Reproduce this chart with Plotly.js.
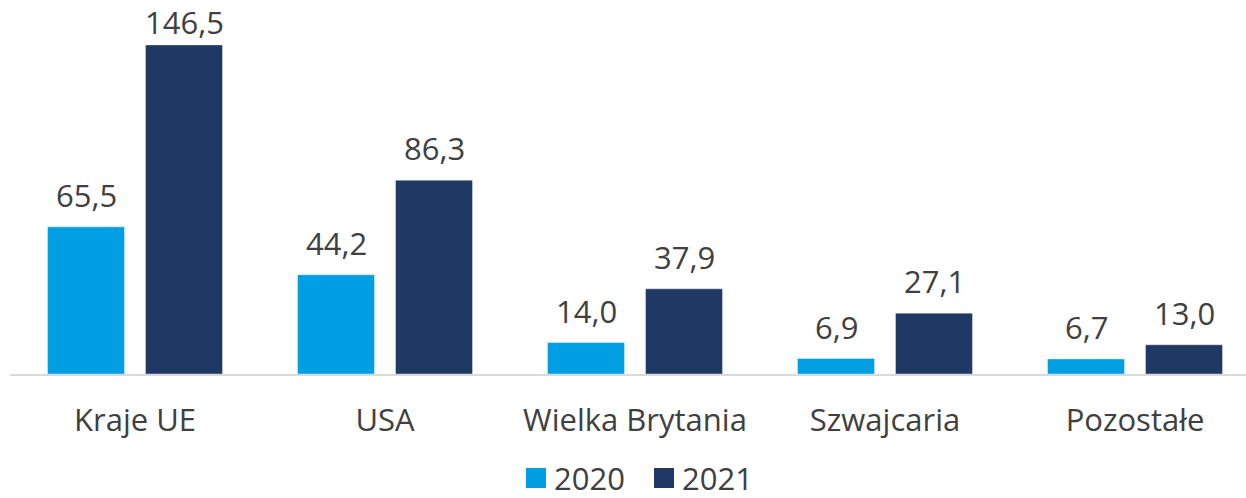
<!DOCTYPE html>
<html>
<head>
<meta charset="utf-8">
<script src="https://cdn.plot.ly/plotly-3.0.1.min.js"></script>
<style>html,body{margin:0;padding:0;overflow:hidden;background:#fff}#chart{width:1246px;height:498px}</style>
</head>
<body>
<div id="chart"></div>
<script>
const categories = ["Kraje UE", "USA", "Wielka Brytania", "Szwajcaria", "Pozostałe"];
const values2020 = [65.5, 44.2, 14.0, 6.9, 6.7];
const values2021 = [146.5, 86.3, 37.9, 27.1, 13.0];
const seriesNames = ["2020", "2021"];
const seriesColors = ["#009FE3", "#203864"];

const fmt = v => v.toFixed(1).replace('.', ',');
const idx = categories.map((_, i) => i);

const textFont = {family: "Open Sans", size: 31, color: "#404040"};

const W = 1246, H = 498, ML = 10, MR = 0, MT = 0, MB = 124;
const YMAX = 166.5;
const plotH = H - MT - MB;
const px2x = p => (p - ML) / (W - ML - MR);
const px2y = p => (H - MB - p) / plotH;
const valToPx = v => MT + plotH * (1 - v / YMAX);

const bargap = 0.216, bargroupgap = 0.214;
const slot = (1 - bargap) / 2;
const offsets = [-slot / 2, slot / 2];

const traces = [values2020, values2021].map((vals, k) => ({
  type: "bar", name: seriesNames[k], x: idx, y: vals, showlegend: false,
  marker: {color: seriesColors[k], line: {color: "rgba(255,255,255,0.4)", width: 1}}, hoverinfo: "none"
}));

const LABEL_H = 32;
const shapes = [], annotations = [];
// value labels (pulled down when they would leave the chart area)
[values2020, values2021].forEach((vals, k) => {
  vals.forEach((v, i) => {
    const shift = Math.min(15, valToPx(v) - LABEL_H - 7);
    annotations.push({xref: "x", yref: "y", x: i + offsets[k], y: v, yanchor: "bottom", xanchor: "center",
      yshift: shift, showarrow: false, text: fmt(v), font: textFont, height: LABEL_H, borderpad: 0});
  });
});
// custom legend (large square swatches)
const legendSquares = [526, 654];
const LEG_Y = 478;
seriesNames.forEach((name, k) => {
  const x0 = legendSquares[k];
  shapes.push({type: "rect", xref: "paper", yref: "paper",
    x0: px2x(x0), x1: px2x(x0 + 20), y0: px2y(LEG_Y + 10), y1: px2y(LEG_Y - 10),
    fillcolor: seriesColors[k], line: {width: 0}});
  annotations.push({xref: "paper", yref: "paper", x: px2x(x0 + 27), y: px2y(LEG_Y),
    xanchor: "left", yanchor: "middle", showarrow: false, text: name, font: textFont,
    height: 30, borderpad: 0});
});

const layout = {
  width: W, height: H,
  margin: {l: ML, r: MR, t: MT, b: MB},
  paper_bgcolor: "#fff", plot_bgcolor: "#fff",
  barmode: "group", bargap: bargap, bargroupgap: bargroupgap,
  xaxis: {range: [-0.5, 4.444], tickvals: idx, ticktext: categories, showgrid: false, zeroline: false,
          showline: true, linecolor: "#d9d9d9", linewidth: 2, ticks: "", tickfont: textFont,
          ticklabelstandoff: 18, fixedrange: true},
  yaxis: {range: [0, YMAX], visible: false, fixedrange: true},
  showlegend: false,
  shapes: shapes, annotations: annotations
};

Plotly.newPlot("chart", traces, layout, {staticPlot: true});
</script>
</body>
</html>
